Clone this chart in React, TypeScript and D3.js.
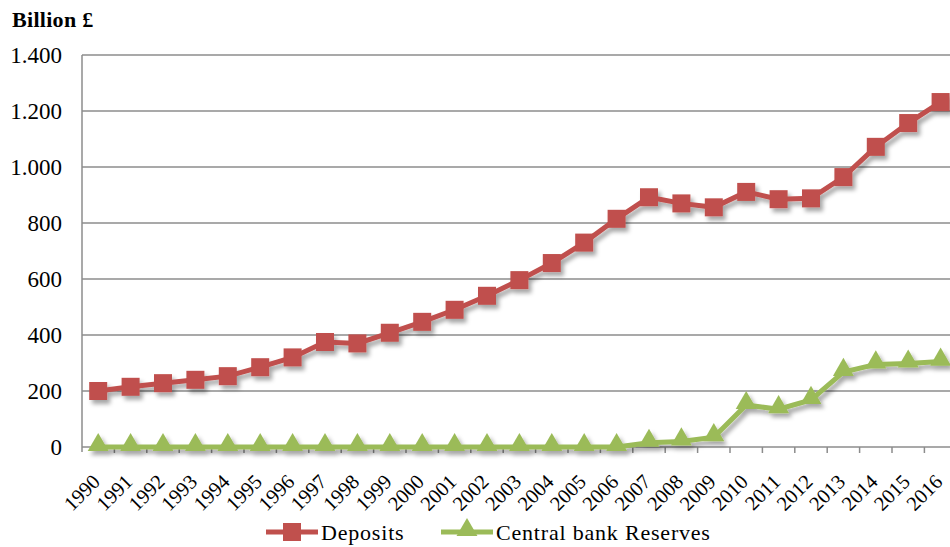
import React from "react";
import * as d3 from "d3";

const years = [
  "1990","1991","1992","1993","1994","1995","1996","1997","1998","1999",
  "2000","2001","2002","2003","2004","2005","2006","2007","2008","2009",
  "2010","2011","2012","2013","2014","2015","2016",
];
const deposits = [
  200, 215, 228, 240, 253, 285, 320, 375, 370, 408,
  447, 490, 540, 596, 657, 730, 815, 892, 870, 856,
  911, 885, 888, 964, 1072, 1157, 1232,
];
const reserves = [
  0, 0, 0, 0, 0, 0, 0, 0, 0, 0,
  0, 0, 0, 0, 0, 0, 0, 15, 20, 35,
  150, 135, 168, 268, 295, 298, 305,
];
const yTicks = [0, 200, 400, 600, 800, 1000, 1200, 1400];
const seriesNames = ["Deposits", "Central bank Reserves"];

const W = 950;
const H = 547;
const left = 82;
const top = 55;
const bottom = 447;
const band = 32.4;
const RED = "#C0504D";
const GREEN = "#9BBB59";
const GRID = "#8c8c8c";
const FONT = "'Liberation Serif', 'Times New Roman', serif";

const fmt = (v: number) => d3.format(",")(v).replace(/,/g, ".");

export default function App() {
  const x = d3
    .scaleBand<string>()
    .domain(years)
    .range([left, left + band * years.length])
    .paddingInner(0)
    .paddingOuter(0);
  const cx = (yr: string) => (x(yr) as number) + x.bandwidth() / 2;
  const y = d3.scaleLinear().domain([0, 1400]).range([bottom, top]);

  const line = d3
    .line<number>()
    .x((_, i) => cx(years[i]))
    .y((d) => y(d));

  const sq = 18;
  const tri = d3.symbol().type(d3.symbolTriangle).size(190)();

  return (
    <svg
      width={W}
      height={H}
      style={{ position: "absolute", left: 0, top: 0, background: "#fff" }}
      fontFamily={FONT}
    >
      <defs>
        <filter id="sh" x="-30%" y="-30%" width="160%" height="160%">
          <feDropShadow dx="3" dy="4" stdDeviation="2.2" floodColor="#000" floodOpacity="0.35" />
        </filter>
      </defs>
      <rect x={0} y={0} width={W} height={H} fill="#fff" />
      <text x={12} y={27} fontSize={22} fontWeight="bold" letterSpacing={0.3} fill="#000">
        Billion £
      </text>

      {/* gridlines and y labels */}
      {yTicks.map((t) => (
        <g key={t}>
          {t > 0 && (
            <line x1={left} x2={W} y1={y(t)} y2={y(t)} stroke={GRID} strokeWidth={1.5} />
          )}
          <text x={62} y={y(t)} dy="0.34em" textAnchor="end" fontSize={23} fill="#000">
            {fmt(t)}
          </text>
        </g>
      ))}
      {/* axes */}
      <line x1={left} x2={left} y1={top} y2={bottom + 5} stroke={GRID} strokeWidth={1.5} />
      <line x1={left} x2={W} y1={bottom} y2={bottom} stroke={GRID} strokeWidth={1.5} />
      {years.map((yr) => (
        <line
          key={"t" + yr}
          x1={(x(yr) as number) + band}
          x2={(x(yr) as number) + band}
          y1={bottom}
          y2={bottom + 6}
          stroke={GRID}
          strokeWidth={1.5}
        />
      ))}
      {years.map((yr) => (
        <text
          key={"l" + yr}
          transform={`translate(${cx(yr) - 2},${bottom + 31}) rotate(-45)`}
          textAnchor="end"
          dy="0.35em"
          fontSize={20.5}
          fill="#000"
        >
          {yr}
        </text>
      ))}

      {/* series */}
      <g filter="url(#sh)">
        <path d={line(deposits) || ""} fill="none" stroke={RED} strokeWidth={5} />
        {deposits.map((v, i) => (
          <rect key={"d" + i} x={cx(years[i]) - sq / 2} y={y(v) - sq / 2} width={sq} height={sq} fill={RED} />
        ))}
      </g>
      <g filter="url(#sh)">
        <path d={line(reserves) || ""} fill="none" stroke={GREEN} strokeWidth={5} />
        {reserves.map((v, i) => (
          <path key={"r" + i} d={tri || ""} transform={`translate(${cx(years[i])},${y(v) - 2})`} fill={GREEN} />
        ))}
      </g>

      {/* legend */}
      <g>
        <line x1={266} x2={318} y1={532} y2={532} stroke={RED} strokeWidth={5} />
        <rect x={292 - sq / 2} y={532 - sq / 2} width={sq} height={sq} fill={RED} />
        <text x={321} y={532} dy="0.35em" fontSize={22} letterSpacing={0.8} fill="#000">
          {seriesNames[0]}
        </text>
        <line x1={441} x2={493} y1={532} y2={532} stroke={GREEN} strokeWidth={5} />
        <path d={tri || ""} transform={`translate(467,530)`} fill={GREEN} />
        <text x={496} y={532} dy="0.35em" fontSize={22} letterSpacing={0.8} fill="#000">
          {seriesNames[1]}
        </text>
      </g>
    </svg>
  );
}
